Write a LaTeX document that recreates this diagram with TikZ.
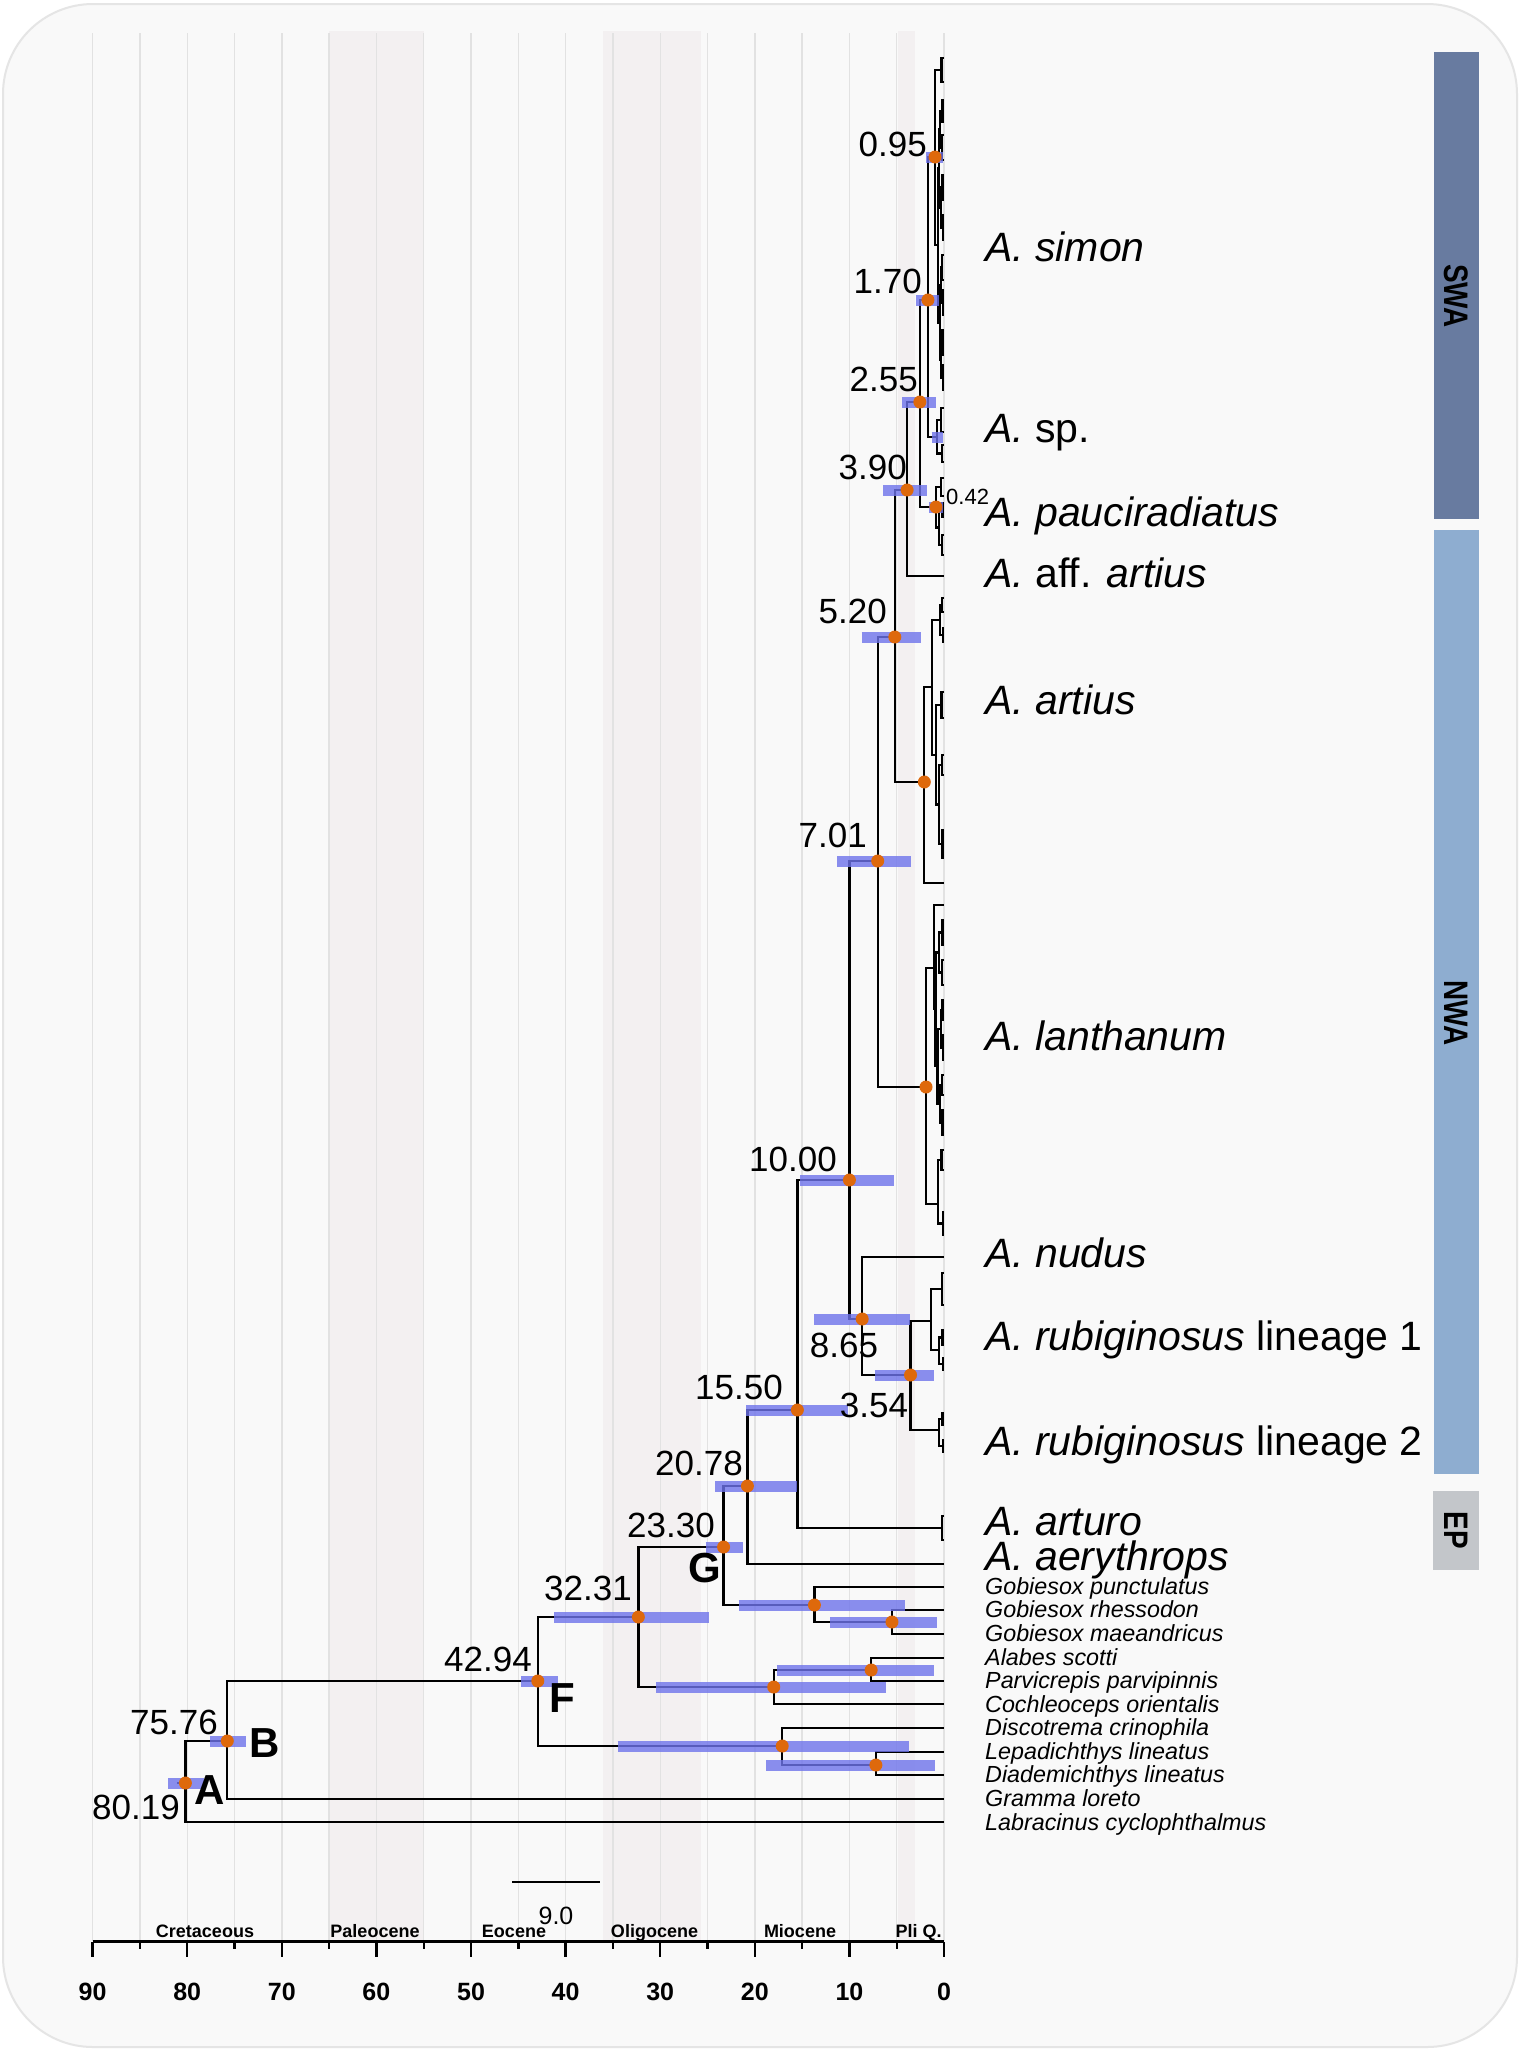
\documentclass[tikz,border=0pt]{standalone}
\usepackage{fontspec}
\setmainfont{Liberation Sans}
\usetikzlibrary{positioning}
\definecolor{panelbg}{RGB}{249,249,249}
\definecolor{panelrim}{RGB}{229,229,229}
\definecolor{bandgray}{RGB}{243,240,241}
\definecolor{gridgray}{RGB}{226,226,226}
\definecolor{hpdblue}{RGB}{110,115,235}
\definecolor{nodeorange}{RGB}{222,105,12}
\definecolor{swacol}{RGB}{104,123,160}
\definecolor{nwacol}{RGB}{142,173,208}
\definecolor{epcol}{RGB}{195,198,202}

\begin{document}
\begin{tikzpicture}[x=1pt, y=-1pt,
    branch/.style={line width=2.3pt},
    hpd/.style={draw=hpdblue, line width=11pt, draw opacity=0.8},
    dot/.style={circle, fill=nodeorange, inner sep=0pt, minimum size=13pt},
    agelbl/.style={font=\fontsize{35}{38}\selectfont, inner sep=0pt, anchor=east},
    cladelbl/.style={font=\fontsize{42}{44}\selectfont\bfseries, inner sep=0pt},
    taxon/.style={font=\fontsize{41}{44}\selectfont, anchor=base west, inner sep=0pt},
    smalltaxon/.style={font=\fontsize{23.3}{25}\selectfont\itshape, anchor=base west, inner sep=0pt},
    era/.style={font=\fontsize{18}{20}\selectfont\bfseries, anchor=base, inner sep=0pt},
    ticklbl/.style={font=\fontsize{25}{27}\selectfont\bfseries, anchor=base, inner sep=0pt},
    region/.style={font=\fontsize{34}{36}\selectfont\bfseries, rotate=-90, inner sep=0pt}]

    \useasboundingbox (0,0) rectangle (1521,2051);
    \fill[white] (0,0) rectangle (1521,2051);
    \filldraw[fill=panelbg, draw=panelrim, line width=2pt, rounded corners=90pt] (3,4) rectangle (1517,2047);

    % time axis: 1 Ma = 9.46 px, 0 at x = 944
    \begin{scope}[shift={(944pt,0pt)}, x=-9.46pt]
    \foreach \ao/\ay in {65/55, 36/25.7, 4.9/3.1}
        \fill[bandgray] (\ao,31) rectangle (\ay,1941);
    \foreach \ag in {0,5,...,90}
        \draw[gridgray, line width=1.4pt] (\ag,33) -- (\ag,1941);
    \draw[line width=2.4pt] (90,1941.5) -- (0,1941.5);
    \foreach \ag in {0,10,...,90} {
        \draw[line width=2.4pt] (\ag,1941.5) -- (\ag,1957);
        \node[ticklbl] at (\ag,2000) {\ag};
    }
    \foreach \ag in {5,15,...,85}
        \draw[line width=2.4pt] (\ag,1941.5) -- (\ag,1949);

    % single tips
    \coordinate (taff) at (0,576);
    \coordinate (tart) at (0,883);
    \coordinate (tl0)  at (0,905);
    \coordinate (tnud) at (0,1257);
    \coordinate (taer) at (0,1564);
    \coordinate (tgp)  at (0,1587);
    \coordinate (tgr)  at (0,1610);
    \coordinate (tgm)  at (0,1634);
    \coordinate (tal)  at (0,1658);
    \coordinate (tpa)  at (0,1681);
    \coordinate (tco)  at (0,1704);
    \coordinate (tdi)  at (0,1728);
    \coordinate (tle)  at (0,1752);
    \coordinate (tdm)  at (0,1775);
    \coordinate (tgl)  at (0,1799);
    \coordinate (tla)  at (0,1822);

    % shallow tip pairs (name/age/top/bottom)
    \foreach \nm/\ag/\ya/\yb in {s1/0.25/58/82, s2/0.15/100/122, s3/0.20/135/160,
        s4/0.15/175/200, s5/0.10/215/240, s6/0.20/255/280, s7/0.12/290/315,
        s8/0.15/330/355, s9/0.10/365/390, p1/0.30/408/432, p2/0.20/445/462,
        q1/0.30/478/496, q2/0.15/503/517, q3/0.20/535/555,
        r1/0.20/598/612, r2/0.12/628/642, r3/0.25/692/718, r4/0.20/755/775, r5/0.15/830/858,
        l1/0.15/920/945, l2/0.20/960/985, l3/0.15/1000/1020, l4/0.10/1035/1060,
        l5/0.20/1075/1095, l6/0.15/1110/1135, l7/0.25/1150/1170, l8/0.12/1212/1235,
        u1/0.20/1273/1305, u2/0.15/1330/1345, u3/0.12/1358/1370,
        v1/0.15/1413/1425, v2/0.12/1440/1452, w1/0.20/1516/1540} {
        \coordinate (\nm) at (\ag,{(\ya+\yb)/2});
        \coordinate (\nm-t) at (0,\ya);
        \coordinate (\nm-b) at (0,\yb);
        \draw[branch] (\nm-t) -| (\nm) |- (\nm-b);
    }

    % internal nodes
    \coordinate (ja)    at (0.40,129);
    \coordinate (jb)    at (0.30,207.5);
    \coordinate (jab)   at (0.50,168);
    \coordinate (jc)    at (0.35,285);
    \coordinate (jd)    at (0.30,360);
    \coordinate (jcd)   at (0.45,322.5);
    \coordinate (js)    at (0.62,245);
    \coordinate (n095)  at (0.95,157);
    \coordinate (nsp)   at (0.74,437);
    \coordinate (n170)  at (1.70,300);
    \coordinate (jq)    at (0.50,527.5);
    \coordinate (n042)  at (0.85,507);
    \coordinate (n255)  at (2.55,402);
    \coordinate (n390)  at (3.90,490);
    \coordinate (jr1)   at (0.45,620);
    \coordinate (jr45)  at (0.50,804.5);
    \coordinate (jr3)   at (0.85,755);
    \coordinate (jr)    at (1.24,687);
    \coordinate (nart)  at (2.08,782);
    \coordinate (n520)  at (5.20,637);
    \coordinate (jl12)  at (0.50,952.5);
    \coordinate (jl34)  at (0.35,1028.75);
    \coordinate (jl56)  at (0.40,1103.75);
    \coordinate (jl36)  at (0.70,1066);
    \coordinate (jlb)   at (0.90,1009);
    \coordinate (jl1)   at (1.06,968);
    \coordinate (jl78)  at (0.60,1204);
    \coordinate (nlan)  at (1.90,1087);
    \coordinate (n701)  at (7.01,861);
    \coordinate (ju23)  at (0.50,1350);
    \coordinate (ju1)   at (1.40,1321);
    \coordinate (jv)    at (0.50,1430);
    \coordinate (n354)  at (3.54,1375);
    \coordinate (n865)  at (8.65,1319);
    \coordinate (n1000) at (10.00,1180);
    \coordinate (n1550) at (15.50,1410);
    \coordinate (n2078) at (20.78,1486);
    \coordinate (ngob2) at (5.5,1622);
    \coordinate (ngob)  at (13.7,1605);
    \coordinate (nG)    at (23.30,1547);
    \coordinate (nal2)  at (7.7,1670);
    \coordinate (nal)   at (18.0,1687);
    \coordinate (n3231) at (32.31,1617);
    \coordinate (nlow2) at (7.2,1765);
    \coordinate (nlow)  at (17.1,1746);
    \coordinate (nF)    at (42.94,1681);
    \coordinate (nB)    at (75.76,1741);
    \coordinate (nA)    at (80.19,1783);
    \coordinate (root)  at (81.1,1783);

    \foreach \pa/\ch in {n095/s1, n095/js, js/jab, js/jcd, jab/ja, jab/jb, ja/s2, ja/s3,
        jb/s4, jb/s5, jcd/jc, jcd/jd, jc/s6, jc/s7, jd/s8, jd/s9,
        nsp/p1, nsp/p2, n170/n095, n170/nsp,
        jq/q2, jq/q3, n042/q1, n042/jq, n255/n170, n255/n042, n390/n255, n390/taff,
        jr1/r1, jr1/r2, jr45/r4, jr45/r5, jr3/r3, jr3/jr45, jr/jr1, jr/jr3,
        nart/jr, nart/tart, n520/n390, n520/nart,
        jl12/l1, jl12/l2, jl34/l3, jl34/l4, jl56/l5, jl56/l6, jl36/jl34, jl36/jl56,
        jlb/jl12, jlb/jl36, jl1/tl0, jl1/jlb, jl78/l7, jl78/l8, nlan/jl1, nlan/jl78,
        n701/n520, n701/nlan,
        ju23/u2, ju23/u3, ju1/u1, ju1/ju23, jv/v1, jv/v2, n354/ju1, n354/jv,
        n865/tnud, n865/n354, n1000/n701, n1000/n865,
        n1550/n1000, n1550/w1, n2078/n1550, n2078/taer,
        ngob2/tgr, ngob2/tgm, ngob/tgp, ngob/ngob2, nG/n2078, nG/ngob,
        nal2/tal, nal2/tpa, nal/nal2, nal/tco, n3231/nG, n3231/nal,
        nlow2/tle, nlow2/tdm, nlow/tdi, nlow/nlow2, nF/n3231, nF/nlow,
        nB/nF, nB/tgl, nA/nB, nA/tla}
        \draw[branch] (\pa) |- (\ch);
    \draw[branch] (root) -- (nA);

    % 95% HPD bars
    \foreach \nd/\ao/\ay in {nA/82.0/78.2, nB/77.6/73.8, nF/44.7/40.8, n3231/41.2/24.8,
        nG/25.2/21.2, n2078/24.2/15.5, n1550/20.9/10.1, n1000/15.2/5.3, n865/13.7/3.6,
        n354/7.3/1.1, n701/11.3/3.5, n520/8.7/2.4, n390/6.4/1.8, n255/4.4/0.8,
        n170/3.0/0.55, n095/1.9/0.1, nsp/1.3/0.1, n042/1.6/0.1, ngob/21.7/4.1,
        ngob2/12.0/0.7, nal/30.4/6.1, nal2/17.7/1.1, nlow/34.5/3.7, nlow2/18.8/1.0}
        \draw[hpd] (\ao,0 |- \nd) -- (\ay,0 |- \nd);

    \foreach \nd in {nA, nB, nF, n3231, nG, n2078, n1550, n1000, n865, n354, n701,
        n520, n390, n255, n170, n095, n042, nart, nlan, ngob, ngob2, nal, nal2, nlow, nlow2}
        \node[dot] at (\nd) {};
    \end{scope}

    % node ages
    \node[agelbl] (a095)  at (927,144)  {0.95};
    \node[agelbl] (a170)  at (922,281)  {1.70};
    \node[agelbl] (a255)  at (918,379)  {2.55};
    \node[agelbl] (a390)  at (907,467)  {3.90};
    \node[font=\fontsize{22}{24}\selectfont, inner sep=0pt, anchor=west] (a042) at (946,497) {0.42};
    \node[agelbl] (a520)  at (887,611)  {5.20};
    \node[agelbl] (a701)  at (867,835)  {7.01};
    \node[agelbl] (a1000) at (837,1159) {10.00};
    \node[agelbl, anchor=center] (a865) at (844,1345) {8.65};
    \node[agelbl, anchor=center] (a354) at (874,1405) {3.54};
    \node[agelbl] (a1550) at (783,1387) {15.50};
    \node[agelbl] (a2078) at (743,1463) {20.78};
    \node[agelbl] (a2330) at (715,1525) {23.30};
    \node[agelbl] (a3231) at (632,1588) {32.31};
    \node[agelbl] (a4294) at (532,1659) {42.94};
    \node[agelbl] (a7576) at (218,1722) {75.76};
    \node[agelbl] (a8019) at (180,1807) {80.19};

    \node[cladelbl] (cA) at (210,1790) {A};
    \node[cladelbl] (cB) at (265,1743) {B};
    \node[cladelbl] (cF) at (562,1698) {F};
    \node[cladelbl] (cG) at (705,1568) {G};

    % taxa
    \node[taxon] (xsim) at (985,261)  {\textit{A. simon}};
    \node[taxon] (xsp)  at (985,442)  {\textit{A.} sp.};
    \node[taxon] (xpau) at (985,526)  {\textit{A. pauciradiatus}};
    \node[taxon] (xaff) at (985,587)  {\textit{A.} aff. \textit{artius}};
    \node[taxon] (xart) at (985,714)  {\textit{A. artius}};
    \node[taxon] (xlan) at (985,1050) {\textit{A. lanthanum}};
    \node[taxon] (xnud) at (985,1267) {\textit{A. nudus}};
    \node[taxon] (xru1) at (985,1350) {\textit{A. rubiginosus} lineage 1};
    \node[taxon] (xru2) at (985,1455) {\textit{A. rubiginosus} lineage 2};
    \node[taxon] (xatu) at (985,1535) {\textit{A. arturo}};
    \node[taxon] (xaer) at (985,1570) {\textit{A. aerythrops}};
    \node[smalltaxon] (xgp) at (985,1594)   {Gobiesox punctulatus};
    \node[smalltaxon] (xgr) at (985,1617.5) {Gobiesox rhessodon};
    \node[smalltaxon] (xgm) at (985,1641)   {Gobiesox maeandricus};
    \node[smalltaxon] (xal) at (985,1665)   {Alabes scotti};
    \node[smalltaxon] (xpa) at (985,1688)   {Parvicrepis parvipinnis};
    \node[smalltaxon] (xco) at (985,1712)   {Cochleoceps orientalis};
    \node[smalltaxon] (xdi) at (985,1735.5) {Discotrema crinophila};
    \node[smalltaxon] (xle) at (985,1759)   {Lepadichthys lineatus};
    \node[smalltaxon] (xdm) at (985,1782.7) {Diademichthys lineatus};
    \node[smalltaxon] (xgl) at (985,1806)   {Gramma loreto};
    \node[smalltaxon] (xla) at (985,1830)   {Labracinus cyclophthalmus};

    % regions
    \fill[swacol] (1434,52) rectangle (1479,519);
    \fill[nwacol] (1434,530) rectangle (1479,1474);
    \fill[epcol]  (1433,1491) rectangle (1479,1570);
    \node[region] (rswa) at (1456.5,296)  {\scalebox{0.82}[1]{SWA}};
    \node[region] (rnwa) at (1456.5,1013) {\scalebox{0.82}[1]{NWA}};
    \node[region] (rep)  at (1456,1530)   {\scalebox{0.82}[1]{EP}};

    % epochs and scale bar
    \node[era] (eCre) at (205,1937)   {Cretaceous};
    \node[era] (ePal) at (375,1937)   {Paleocene};
    \node[era] (eEoc) at (514,1937)   {Eocene};
    \node[era] (eOli) at (654.5,1937) {Oligocene};
    \node[era] (eMio) at (800,1937)   {Miocene};
    \node[era] (ePli) at (918.5,1937) {Pli Q.};
    \draw[line width=2.5pt] (512,1882) -- (600,1882);
    \node[font=\fontsize{25}{27}\selectfont, inner sep=0pt] (sbar) at (556,1916) {9.0};

\end{tikzpicture}
\end{document}
